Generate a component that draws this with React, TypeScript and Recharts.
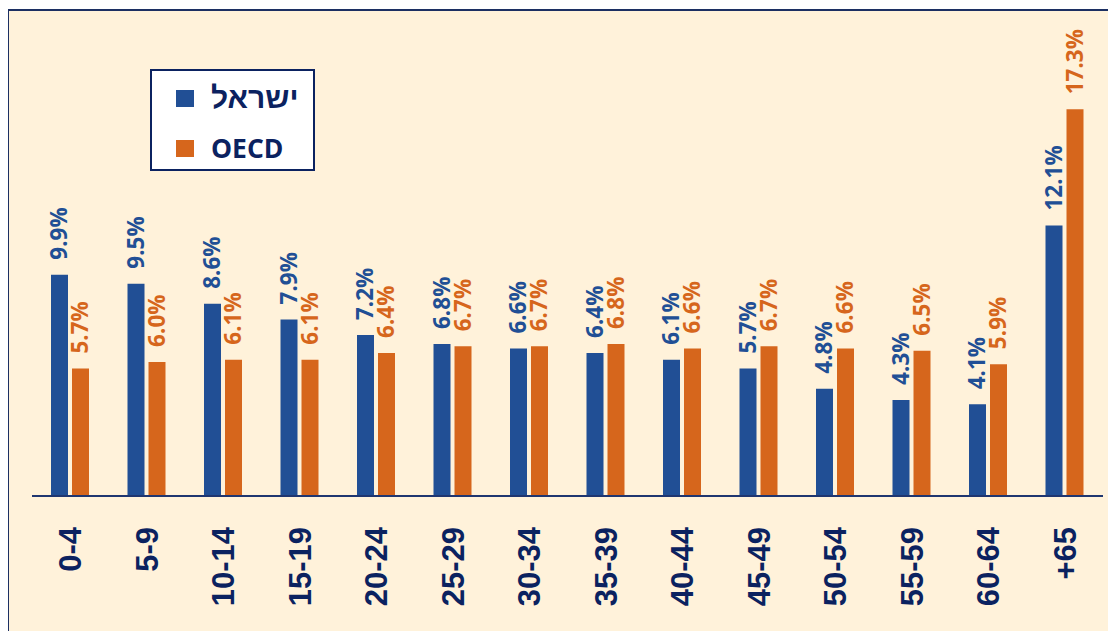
import React from "react";
import { Bar, BarChart, LabelList, Legend, XAxis, YAxis } from "recharts";

const ageGroups = ["0-4", "5-9", "10-14", "15-19", "20-24", "25-29", "30-34", "35-39", "40-44", "45-49", "50-54", "55-59", "60-64", "+65"];
const israel = [9.9, 9.5, 8.6, 7.9, 7.2, 6.8, 6.6, 6.4, 6.1, 5.7, 4.8, 4.3, 4.1, 12.1];
const oecd = [5.7, 6.0, 6.1, 6.1, 6.4, 6.7, 6.7, 6.8, 6.6, 6.7, 6.6, 6.5, 5.9, 17.3];
const seriesNames = ["ישראל", "OECD"];

const data = ageGroups.map((age, i) => ({ age, israel: israel[i], oecd: oecd[i] }));

const BLUE = "#214f95";
const ORANGE = "#d6661c";
const NAVY = "#0b2260";

const valueLabel = (color: string) => (props: any) => {
    const { x, y, width, value } = props;
    const cx = x + width / 2 + 8;
    const cy = y - 15;
    return (
        <text
            x={cx}
            y={cy}
            transform={`rotate(-90, ${cx}, ${cy})`}
            textAnchor="start"
            fill={color}
            fontSize={22.5}
            fontWeight="bold"
            fontFamily="'Open Sans', sans-serif"
        >
            {`${Number(value).toFixed(1)}%`}
        </text>
    );
};

const AgeTick = (props: any) => {
    const { x, y, payload } = props;
    const tx = x + 11;
    const ty = y + 23;
    return (
        <text
            x={tx}
            y={ty}
            transform={`rotate(-90, ${tx}, ${ty})`}
            textAnchor="end"
            fill={NAVY}
            fontSize={31}
            fontWeight="bold"
            fontFamily="'Liberation Sans', Arial, sans-serif"
        >
            {payload.value}
        </text>
    );
};

const LegendBox = () => (
    <div
        style={{
            position: "relative",
            width: 165,
            height: 102,
            background: "#ffffff",
            border: `2px solid ${NAVY}`,
            boxSizing: "border-box",
            fontFamily: "'Open Sans', 'Liberation Sans', sans-serif",
            fontWeight: "bold",
            fontSize: 26,
            color: NAVY,
        }}
    >
        {[BLUE, ORANGE].map((c, i) => (
            <div key={i} style={{ display: "flex", alignItems: "center", position: "absolute", left: 24, top: 10 + i * 50, height: 34 }}>
                <span style={{ width: 18, height: 17, background: c, display: "inline-block", marginRight: 17 }} />
                <span dir={i === 0 ? "rtl" : "ltr"} style={{ fontFamily: i === 0 ? "'Liberation Sans', sans-serif" : undefined, fontSize: i === 0 ? 30 : 26.5 }}>
                    {seriesNames[i]}
                </span>
            </div>
        ))}
    </div>
);

export default function App() {
    return (
        <div style={{ position: "relative", width: 1116, height: 639, margin: -8, overflow: "hidden", background: "#ffffff" }}>
            <div
                style={{
                    position: "absolute",
                    left: 7,
                    top: 9,
                    width: 1130,
                    height: 650,
                    border: "2px solid #1c2f62",
                    background: "#fff2da",
                }}
            />
            <div style={{ position: "absolute", left: 0, top: 0 }}>
                <BarChart width={1116} height={639} data={data} margin={{ top: 49, right: 13, bottom: 0, left: 32 }} barSize={17} barGap={4}>
                    <XAxis
                        dataKey="age"
                        height={143}
                        interval={0}
                        tickLine={false}
                        axisLine={{ stroke: "#1f3670", strokeWidth: 2 }}
                        tick={<AgeTick />}
                    />
                    <YAxis hide domain={[0, 20]} />
                    <Legend
                        layout="vertical"
                        align="center"
                        verticalAlign="middle"
                        content={<LegendBox />}
                        wrapperStyle={{ left: 150, top: 69, width: 165, height: 102 }}
                    />
                    <Bar dataKey="israel" name={seriesNames[0]} fill={BLUE} isAnimationActive={false}>
                        <LabelList dataKey="israel" content={valueLabel(BLUE)} />
                    </Bar>
                    <Bar dataKey="oecd" name={seriesNames[1]} fill={ORANGE} isAnimationActive={false}>
                        <LabelList dataKey="oecd" content={valueLabel(ORANGE)} />
                    </Bar>
                </BarChart>
            </div>
        </div>
    );
}
